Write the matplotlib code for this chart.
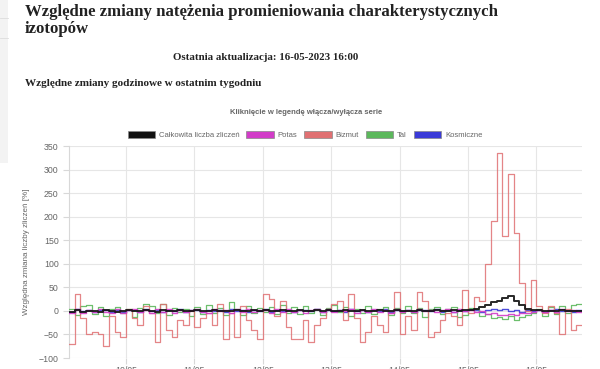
import numpy as np
import pandas as pd
import matplotlib
matplotlib.use("Agg")
import matplotlib.pyplot as plt
import matplotlib.dates as mdates
from matplotlib.patches import Patch, Rectangle

# --- data (relative hourly changes in %, 2-hour steps) ---
start_time = "2023-05-09 04:00"
step_hours = 2

series_names = ["Całkowita liczba zliczeń", "Potas", "Bizmut", "Tal", "Kosmiczne"]
series_colors = ["#111111", "#d23cc8", "#e07072", "#5cb85c", "#3a3ad8"]

total = [-3, 2, -2, -1, 0, -2, 1, -1, -2, 0, 1, -1, 0, 2, -1, -2, 1, 0, -1, 1,
         0, -1, 1, 0, -1, 1, 0, -1, 0, 1, -1, 0, 1, -1, 2, 0, -1, 1, 0, -1,
         1, 0, -1, 1, 0, 2, -1, 0, 1, -1, 0, 1, -1, 0, 1, 0, -1, 1, 0, -1,
         0, 1, -1, 0, 1, 0, -1, 1, 0, 2, 1, 4, 8, 12, 18, 22, 28, 32, 20, 12,
         4, 2, 1, 0, -1, 0, 1, -1, 0, -1]
potas = [-4, 3, -5, 2, -3, 4, -2, -5, 3, -4, 2, 5, -3, 1, -4, 3, -2, 4, -5, 2,
         -3, 1, 4, -2, -4, 3, -1, 2, -5, 3, -2, 4, -3, 1, 2, -4, 3, -2, 5, -3,
         2, -4, 1, 3, -2, 4, -3, 2, -1, 3, -4, 2, -3, 4, -2, 1, -4, 3, -2, 2,
         -3, 4, -1, 2, -3, 1, 3, -2, 4, -1, 2, -3, -1, -6, -4, -8, -9, -6, -8, -5,
         -4, -2, 1, -3, 2, -2, 3, -1, 2, -2]
bizmut = [-70, 35, -15, -50, -45, -50, -75, -10, -45, -55,
          5, -15, -30, 10, -5, -65, 15, -40, -55, -20,
          -30, 0, -35, -15, -5, -30, 15, -60, -5, -55,
          10, -20, -40, -60, 35, 25, -10, 20, -35, -60,
          -60, -20, -65, -30, -15, 5, 15, 20, -20, 35,
          -15, -65, -45, -10, -30, -45, -5, 40, -50, -10,
          -40, 40, 20, -55, -45, -20, -5, -10, -30, 45,
          -5, 30, 20, 100, 190, 335, 160, 290, 165, 60,
          0, 65, 10, -5, 10, -5, -50, 5, -40, -30]
tal = [5, -8, 10, 12, -6, 8, -10, 4, 9, -5, 3, -12, 6, 14, 10, -4, 15, -8, 6, -3,
       5, -10, 8, -6, 12, -4, 7, -9, 18, 4, -8, 10, -5, 6, -3, 9, -7, 12, -4, 8,
       -6, 10, -5, 4, -8, 6, 12, -3, 9, -10, 5, -4, 11, -6, 3, 8, -9, 6, -4, 10,
       -5, 7, -12, 4, 9, -6, 3, 8, -14, -8, 6, 4, -10, -6, -15, -12, -18, -10, -20, -14,
       -8, -5, 4, -10, 8, -6, 10, -4, 12, 15]
kosmiczne = [-2, 3, -1, 2, -3, 1, 2, -2, 1, -3, 2, 1, -2, 3, -1, 2, -2, 1, -1, 3,
             -2, 1, 2, -3, 1, -1, 2, -2, 3, -1, 1, -2, 2, -1, 3, -2, 1, -1, 2, -3,
             1, 2, -1, 3, -2, 1, -1, 2, -2, 3, -1, 1, -2, 2, -1, 3, -2, 1, -1, 2,
             -3, 1, 2, -1, 3, -2, 1, -2, 2, -1, 3, 1, -2, 2, 4, 1, 3, -1, 2, -2,
             1, -1, 2, -2, 1, 3, -1, 2, -2, 1]

y_ticks = [-100, -50, 0, 50, 100, 150, 200, 250, 300, 350]


def step_xy(values):
    t = pd.date_range(start_time, periods=len(values) + 1, freq=f"{step_hours}h")
    v = list(values) + [values[-1]]
    return t, v


fig = plt.figure(figsize=(6, 3.69), dpi=100)
fig.patch.set_facecolor("white")

# faint page sidebar on the left edge
fig.add_artist(Rectangle((0, 1 - 163 / 369), 8 / 600, 163 / 369, transform=fig.transFigure,
                         facecolor="#f3f3f3", edgecolor="none"))
for yy in [18, 38]:
    fig.add_artist(plt.Line2D([0, 8 / 600], [1 - yy / 369] * 2, transform=fig.transFigure,
                              color="#dddddd", lw=0.6))

# page headings
serif = ["Liberation Serif", "DejaVu Serif"]
fig.text(25 / 600, 1 - 12 / 369, "Względne zmiany natężenia promieniowania charakterystycznych",
         family=serif, weight="bold", fontsize=12.1, color="#222222", va="center")
fig.text(25 / 600, 1 - 29 / 369, "izotopów",
         family=serif, weight="bold", fontsize=12.1, color="#222222", va="center")
fig.text(266 / 600, 1 - 57 / 369, "Ostatnia aktualizacja: 16-05-2023 16:00",
         family=serif, weight="bold", fontsize=7.8, color="#222222", va="center", ha="center")
fig.text(25 / 600, 1 - 83 / 369, "Względne zmiany godzinowe w ostatnim tygodniu",
         family=serif, weight="bold", fontsize=8, color="#222222", va="center")

sans = ["Liberation Sans", "DejaVu Sans"]
fig.text(306 / 600, 1 - 113 / 369, "Kliknięcie w legendę włącza/wyłącza serie",
         family=sans, weight="bold", fontsize=5.5, color="#666666", va="center", ha="center")

ax = fig.add_axes([69 / 600, 1 - 358 / 369, 513 / 600, 212 / 369])

all_series = [total, potas, bizmut, tal, kosmiczne]
widths = [1.4, 1.0, 0.9, 0.9, 1.0]
for i in reversed(range(len(all_series))):
    t, v = step_xy(all_series[i])
    ax.step(t, v, where="post", color=series_colors[i], lw=widths[i],
            alpha=0.9 if i != 2 else 0.85, zorder=3 + (5 - i))

t0 = pd.Timestamp(start_time)
t1 = t0 + pd.Timedelta(hours=step_hours * len(bizmut))
ax.set_xlim(t0, t1)
ax.set_ylim(-100, 350)
ax.set_yticks(y_ticks)
ax.xaxis.set_major_locator(mdates.DayLocator())
ax.xaxis.set_major_formatter(mdates.DateFormatter("%d/%m"))

ax.grid(True, color="#e6e6e6", lw=0.8)
for s in ["top", "right", "bottom"]:
    ax.spines[s].set_visible(False)
ax.spines["left"].set_color("#d8d8d8")
ax.tick_params(axis="both", colors="#d8d8d8", labelcolor="#666666",
               labelsize=6.3, length=4, width=0.8)
ax.tick_params(axis="x", pad=2)
for lab in ax.get_yticklabels() + ax.get_xticklabels():
    lab.set_family(sans)

ax.set_ylabel("Względna zmiana liczby zliczeń [%]", family=sans, fontsize=5.8,
              color="#666666", labelpad=6)

handles = [Patch(facecolor=c, edgecolor="#888888", lw=0.5) for c in series_colors]
fig.legend(handles, series_names, loc="center", bbox_to_anchor=(305 / 600, 1 - 135 / 369),
           ncol=5, frameon=False, prop={"family": sans, "size": 5.5},
           handlelength=3.6, handleheight=1.1, handletextpad=0.5, columnspacing=0.9,
           labelcolor="#666666")

fig.savefig("out.png", dpi=100)
